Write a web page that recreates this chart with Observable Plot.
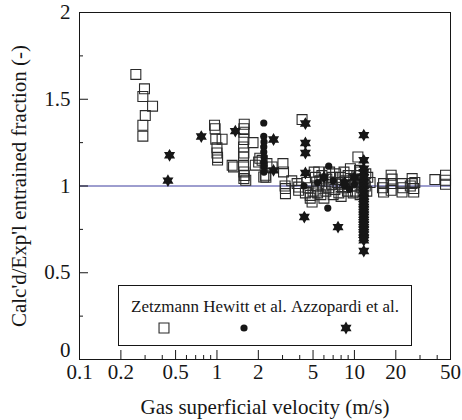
<!DOCTYPE html>
<html>
<head>
<meta charset="utf-8">
<script src="https://cdn.jsdelivr.net/npm/d3@7"></script>
<script src="https://cdn.jsdelivr.net/npm/@observablehq/plot@0.6"></script>
<style>
  body { margin: 0; background: #fff; }
  #chart { position: relative; width: 462px; height: 420px; font-family: "Liberation Serif", "Times New Roman", serif; }
  #chart svg { display: block; }
  #legend { position: absolute; left: 118px; top: 285px; }
</style>
</head>
<body>
<div id="chart"></div>
<script>
// Calculated / experimental entrained fraction vs gas superficial velocity
const seriesNames = ["Zetzmann", "Hewitt et al.", "Azzopardi et al."];

// Zetzmann (open squares)
const zetzX = [0.257, 0.297, 0.289, 0.340, 0.301, 0.289, 0.289,
  0.96, 0.97, 0.98, 1.09, 1.0, 1.0, 1.01, 1.01,
  1.58, 1.57, 1.57, 1.57, 1.56, 1.57, 1.56, 1.56, 1.57, 1.58, 1.57, 1.62, 1.83, 1.32, 1.29,
  2.01, 2.13, 2.31, 2.52, 3.02, 3.05, 2.19, 2.25, 2.27, 1.9, 2.05,
  3.15, 3.15, 3.13, 3.83, 3.93, 3.93, 4.16,
  4.77, 4.92, 4.77, 5.5, 5.2, 5.6, 5.9, 6.2, 4.5, 4.6, 5.0, 5.3, 5.8, 6.3, 6.8, 7.2, 7.9, 7.5,
  8.2, 8.6, 9.35, 9.0, 9.6, 10.2, 10.6, 11.1, 11.5, 12.0, 12.3, 10.8, 9.9, 7.0, 8.0, 6.6, 12.5, 13.0, 11.0, 6.0,
  5.1, 5.7, 6.5, 7.3, 7.7, 8.4, 8.9, 9.3, 9.8, 10.4, 10.9, 11.3, 12.1, 6.9, 5.4, 4.4, 8.0, 10.0, 11.8, 3.5,
  16.3, 16.3, 16.0, 18.5, 18.5, 18.5, 18.8, 22.2, 22.2, 22.5, 26.3, 26.3, 27.0, 27.0, 27.5, 25.5,
  38.5, 46.0, 46.0, 46.0];
const zetzY = [1.643, 1.560, 1.516, 1.460, 1.406, 1.350, 1.287,
  1.35, 1.33, 1.27, 1.27, 1.22, 1.19, 1.165, 1.15,
  1.356, 1.33, 1.31, 1.268, 1.225, 1.19, 1.167, 1.119, 1.081, 1.06, 1.043, 1.033, 1.25, 1.11, 1.119,
  1.138, 1.148, 1.129, 1.11, 1.129, 1.081, 1.052, 1.062, 1.05, 1.12, 1.16,
  0.985, 0.956, 1.0, 1.014, 0.994, 0.975, 1.383,
  0.946, 0.908, 0.93, 1.081, 1.05, 1.03, 1.0, 0.97, 1.02, 0.99, 0.97, 1.0, 1.06, 1.04, 1.01, 0.98, 1.05, 1.02,
  0.99, 1.03, 1.1, 1.06, 1.0, 0.97, 1.167, 1.081, 1.04, 1.0, 0.97, 1.02, 1.04, 0.95, 0.94, 1.08, 1.05, 1.02, 0.95, 0.93,
  1.08, 0.95, 0.99, 1.07, 0.96, 1.08, 0.97, 1.02, 0.96, 1.06, 1.09, 0.99, 1.07, 1.05, 0.96, 0.96, 1.01, 1.0, 1.02, 1.03,
  1.014, 0.965, 0.99, 1.062, 1.014, 0.975, 1.04, 1.014, 0.965, 0.99, 1.043, 1.014, 0.985, 0.965, 1.02, 1.0,
  1.037, 1.062, 1.033, 1.01];

// Hewitt et al. (filled circles)
const hewittX = [2.19, 2.19, 2.2, 2.19, 2.19, 2.2, 2.19, 2.2, 2.2, 6.5, 6.4, 4.3, 5.4, 7.0, 8.5, 10.0, 11.5, 9.2];
const hewittY = [1.363, 1.286, 1.254, 1.225, 1.196, 1.167, 1.138, 1.11, 1.08, 1.114, 0.873, 1.0, 1.02, 1.03, 1.0, 1.01, 1.02, 0.98];

// Azzopardi et al. (six-pointed stars)
const azzoX = [0.452, 0.440, 0.769, 1.36, 2.58, 2.58, 4.4, 4.4, 4.4, 4.4, 4.32, 7.6,
  11.7, 11.7, 11.7, 11.7, 11.7, 11.7, 11.7, 11.7, 11.7, 11.7, 11.7,
  11.7, 11.7, 11.7, 11.7, 11.7, 11.7, 11.7, 11.7, 11.7, 11.7, 11.7, 11.7, 11.7, 11.7, 11.7, 11.7, 11.7,
  6.0, 8.5, 10.0];
const azzoY = [1.177, 1.031, 1.285, 1.316, 1.268, 1.09, 1.36, 1.248, 1.19, 1.075, 0.821, 0.763,
  1.293, 1.148, 1.1, 1.08, 1.05, 1.02, 1.0, 0.98, 0.96, 0.94, 0.925,
  0.908, 0.895, 0.879, 0.865, 0.85, 0.835, 0.821, 0.805, 0.792, 0.778, 0.763, 0.75, 0.734, 0.72, 0.70, 0.687, 0.625,
  1.05, 1.02, 1.05];

// Axis ticks
const xTicks = [0.1, 0.2, 0.5, 1, 2, 5, 10, 20, 50];
const xMinor = [0.3, 0.4, 0.6, 0.7, 0.8, 0.9, 3, 4, 6, 7, 8, 9, 30, 40];
const yTicks = [0, 0.5, 1, 1.5, 2];
const yMinor = [0.25, 0.75, 1.25, 1.75];

const zetz = zetzX.map((x, i) => ({x, y: zetzY[i]}));
const hewitt = hewittX.map((x, i) => ({x, y: hewittY[i]}));
const azzo = azzoX.map((x, i) => ({x, y: azzoY[i]}));

// Filled six-pointed star
const hexagram = {
  draw(context, size) {
    const R = Math.sqrt(size / Math.PI);
    const r = R / Math.sqrt(3);
    for (let k = 0; k < 12; k++) {
      const a = -Math.PI / 2 + k * Math.PI / 6;
      const rr = k % 2 === 0 ? R : r;
      const px = rr * Math.cos(a), py = rr * Math.sin(a);
      if (k === 0) context.moveTo(px, py); else context.lineTo(px, py);
    }
    context.closePath();
  }
};

const W = 462, H = 420, mL = 79, mR = 12, mT = 12, mB = 61;
const innerW = W - mL - mR, innerH = H - mT - mB;
const ink = "#161616";
const font = 21;
const serif = '"Liberation Serif", "Times New Roman", serif';

const plot = Plot.plot({
  width: W, height: H,
  marginLeft: mL, marginRight: mR, marginTop: mT, marginBottom: mB,
  style: {fontFamily: serif, fontSize: font + "px", color: ink, background: "#fff"},
  x: {type: "log", domain: [0.1, 50], axis: null},
  y: {domain: [0, 2], axis: null},
  marks: [
    Plot.ruleY([1], {stroke: "#3c3c9e", strokeWidth: 1}),
    Plot.dot(zetz, {x: "x", y: "y", symbol: "square", r: 5.6, fill: "none", stroke: "#2a2a2a", strokeWidth: 1.1}),
    Plot.dot(hewitt, {x: "x", y: "y", r: 3.6, fill: ink}),
    Plot.dot(azzo, {x: "x", y: "y", symbol: hexagram, r: 6.4, fill: ink}),
    Plot.frame({stroke: ink, strokeWidth: 1}),
    // inward ticks
    Plot.ruleX(xTicks, {x: d => d, insetTop: innerH - 9, stroke: ink}),
    Plot.ruleX(xMinor, {x: d => d, insetTop: innerH - 4, stroke: ink}),
    Plot.ruleY(yTicks, {y: d => d, insetRight: innerW - 9, stroke: ink}),
    Plot.ruleY(yMinor, {y: d => d, insetRight: innerW - 4, stroke: ink}),
    // tick labels
    Plot.text(xTicks, {x: d => d, frameAnchor: "bottom", lineAnchor: "top", dy: 5, text: d => String(d), fill: ink, fontSize: font, fontFamily: serif}),
    Plot.text(yTicks.filter(d => d !== 0), {y: d => d, frameAnchor: "left", textAnchor: "end", dx: -9, text: d => String(d), fill: ink, fontSize: font, fontFamily: serif}),
    Plot.text([0], {y: d => d, frameAnchor: "left", textAnchor: "end", dx: -9, dy: -9, text: d => String(d), fill: ink, fontSize: font, fontFamily: serif}),
    // axis titles
    Plot.text(["Gas superficial velocity (m/s)"], {frameAnchor: "bottom", lineAnchor: "bottom", dy: 54, text: d => d, fill: ink, fontSize: font, fontFamily: serif}),
    Plot.text(["Calc'd/Exp'l entrained fraction (-)"], {frameAnchor: "left", textAnchor: "middle", rotate: -90, lineAnchor: "bottom", dx: -54, text: d => d, fill: ink, fontSize: font, fontFamily: serif})
  ]
});

const chart = document.getElementById("chart");
chart.appendChild(plot);

// Legend box inside the plotting area
const lw = 294, lh = 61;
const legend = d3.select(chart).append("svg")
  .attr("id", "legend").attr("width", lw).attr("height", lh)
  .style("font-family", serif);
legend.append("rect").attr("x", 0.5).attr("y", 0.5).attr("width", lw - 1).attr("height", lh - 1)
  .attr("fill", "#fff").attr("stroke", ink);
const textX = [47, 127, 227];
const symX = [46, 126, 228];
seriesNames.forEach((name, i) => {
  legend.append("text").attr("x", textX[i]).attr("y", 27).attr("text-anchor", "middle")
    .attr("font-size", 17).attr("font-family", serif).attr("fill", ink).text(name);
});
legend.append("path").attr("d", d3.symbol(d3.symbolSquare, 5.6 * 5.6 * Math.PI)())
  .attr("transform", `translate(${symX[0]},43)`).attr("fill", "none").attr("stroke", "#2a2a2a").attr("stroke-width", 1.1);
legend.append("circle").attr("cx", symX[1]).attr("cy", 43).attr("r", 3.6).attr("fill", ink);
legend.append("path").attr("d", d3.symbol(hexagram, 6.4 * 6.4 * Math.PI)())
  .attr("transform", `translate(${symX[2]},43)`).attr("fill", ink);
</script>
</body>
</html>
